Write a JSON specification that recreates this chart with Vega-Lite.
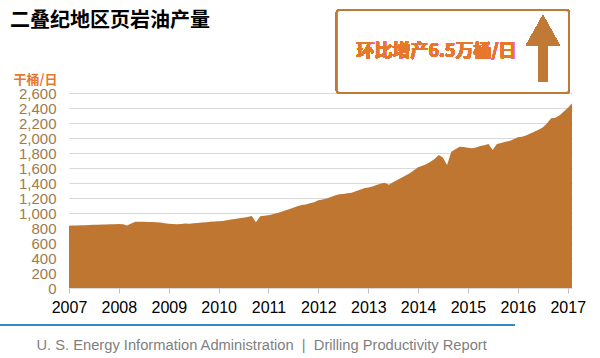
{
  "$schema": "https://vega.github.io/schema/vega-lite/v6.json",
  "width": 503,
  "height": 195,
  "autosize": {"type": "none"},
  "padding": {"left": 69, "top": 93, "right": 28, "bottom": 70},
  "background": "white",
  "config": {"view": {"stroke": null}, "font": "Liberation Sans"},
  "title": {"text": "二叠纪地区页岩油产量", "anchor": "start", "frame": "group", "dx": -59, "offset": -22, "fontSize": 20, "fontWeight": "bold", "font": "Noto Sans CJK SC", "color": "#000000"},
  "data": {"values": [
    {"date": "2007-01-01", "production": 830}, {"date": "2007-02-01", "production": 832}, {"date": "2007-03-01", "production": 835}, {"date": "2007-04-01", "production": 836},
    {"date": "2007-05-01", "production": 838}, {"date": "2007-06-01", "production": 840}, {"date": "2007-07-01", "production": 843}, {"date": "2007-08-01", "production": 845},
    {"date": "2007-09-01", "production": 846}, {"date": "2007-10-01", "production": 848}, {"date": "2007-11-01", "production": 850}, {"date": "2007-12-01", "production": 851},
    {"date": "2008-01-01", "production": 853}, {"date": "2008-02-01", "production": 850}, {"date": "2008-03-01", "production": 835}, {"date": "2008-04-01", "production": 860},
    {"date": "2008-05-01", "production": 885}, {"date": "2008-06-01", "production": 884}, {"date": "2008-07-01", "production": 882}, {"date": "2008-08-01", "production": 880},
    {"date": "2008-09-01", "production": 881}, {"date": "2008-10-01", "production": 878}, {"date": "2008-11-01", "production": 872}, {"date": "2008-12-01", "production": 865},
    {"date": "2009-01-01", "production": 858}, {"date": "2009-02-01", "production": 852}, {"date": "2009-03-01", "production": 849}, {"date": "2009-04-01", "production": 852},
    {"date": "2009-05-01", "production": 860}, {"date": "2009-06-01", "production": 858}, {"date": "2009-07-01", "production": 864}, {"date": "2009-08-01", "production": 868},
    {"date": "2009-09-01", "production": 872}, {"date": "2009-10-01", "production": 878}, {"date": "2009-11-01", "production": 882}, {"date": "2009-12-01", "production": 886},
    {"date": "2010-01-01", "production": 890}, {"date": "2010-02-01", "production": 895}, {"date": "2010-03-01", "production": 902}, {"date": "2010-04-01", "production": 912},
    {"date": "2010-05-01", "production": 920}, {"date": "2010-06-01", "production": 929}, {"date": "2010-07-01", "production": 938}, {"date": "2010-08-01", "production": 948},
    {"date": "2010-09-01", "production": 960}, {"date": "2010-10-01", "production": 876}, {"date": "2010-11-01", "production": 958}, {"date": "2010-12-01", "production": 962},
    {"date": "2011-01-01", "production": 970}, {"date": "2011-02-01", "production": 982}, {"date": "2011-03-01", "production": 996}, {"date": "2011-04-01", "production": 1015},
    {"date": "2011-05-01", "production": 1035}, {"date": "2011-06-01", "production": 1049}, {"date": "2011-07-01", "production": 1070}, {"date": "2011-08-01", "production": 1090},
    {"date": "2011-09-01", "production": 1107}, {"date": "2011-10-01", "production": 1115}, {"date": "2011-11-01", "production": 1129}, {"date": "2011-12-01", "production": 1145},
    {"date": "2012-01-01", "production": 1170}, {"date": "2012-02-01", "production": 1180}, {"date": "2012-03-01", "production": 1195}, {"date": "2012-04-01", "production": 1215},
    {"date": "2012-05-01", "production": 1232}, {"date": "2012-06-01", "production": 1249}, {"date": "2012-07-01", "production": 1255}, {"date": "2012-08-01", "production": 1262},
    {"date": "2012-09-01", "production": 1271}, {"date": "2012-10-01", "production": 1290}, {"date": "2012-11-01", "production": 1310}, {"date": "2012-12-01", "production": 1329},
    {"date": "2013-01-01", "production": 1340}, {"date": "2013-02-01", "production": 1355}, {"date": "2013-03-01", "production": 1372}, {"date": "2013-04-01", "production": 1390},
    {"date": "2013-05-01", "production": 1404}, {"date": "2013-06-01", "production": 1378}, {"date": "2013-07-01", "production": 1410}, {"date": "2013-08-01", "production": 1440},
    {"date": "2013-09-01", "production": 1470}, {"date": "2013-10-01", "production": 1500}, {"date": "2013-11-01", "production": 1529}, {"date": "2013-12-01", "production": 1570},
    {"date": "2014-01-01", "production": 1610}, {"date": "2014-02-01", "production": 1630}, {"date": "2014-03-01", "production": 1650}, {"date": "2014-04-01", "production": 1684},
    {"date": "2014-05-01", "production": 1720}, {"date": "2014-06-01", "production": 1773}, {"date": "2014-07-01", "production": 1740}, {"date": "2014-08-01", "production": 1640},
    {"date": "2014-09-01", "production": 1818}, {"date": "2014-10-01", "production": 1850}, {"date": "2014-11-01", "production": 1884}, {"date": "2014-12-01", "production": 1880},
    {"date": "2015-01-01", "production": 1870}, {"date": "2015-02-01", "production": 1862}, {"date": "2015-03-01", "production": 1875}, {"date": "2015-04-01", "production": 1893},
    {"date": "2015-05-01", "production": 1905}, {"date": "2015-06-01", "production": 1920}, {"date": "2015-07-01", "production": 1840}, {"date": "2015-08-01", "production": 1920},
    {"date": "2015-09-01", "production": 1935}, {"date": "2015-10-01", "production": 1950}, {"date": "2015-11-01", "production": 1960}, {"date": "2015-12-01", "production": 1985},
    {"date": "2016-01-01", "production": 2010}, {"date": "2016-02-01", "production": 2018}, {"date": "2016-03-01", "production": 2035}, {"date": "2016-04-01", "production": 2060},
    {"date": "2016-05-01", "production": 2084}, {"date": "2016-06-01", "production": 2110}, {"date": "2016-07-01", "production": 2140}, {"date": "2016-08-01", "production": 2195},
    {"date": "2016-09-01", "production": 2262}, {"date": "2016-10-01", "production": 2270}, {"date": "2016-11-01", "production": 2300}, {"date": "2016-12-01", "production": 2351},
    {"date": "2017-01-01", "production": 2400}, {"date": "2017-02-01", "production": 2465}
  ]},
  "layer": [
    {
      "mark": {"type": "area", "color": "#BE7630", "opacity": 1},
      "encoding": {
        "x": {"field": "date", "type": "temporal",
          "scale": {"domain": [{"year": 2007, "month": 1, "date": 1}, {"year": 2017, "month": 2, "date": 1}]},
          "axis": {"format": "%Y", "tickCount": {"interval": "year", "step": 1}, "labelFlush": false, "labelOverlap": false, "labelFontSize": 16, "labelColor": "#000000", "labelFont": "Liberation Sans", "grid": false, "tickColor": "#BFBFBF", "tickSize": 5, "labelPadding": 6, "domain": false,
            "title": "U. S. Energy Information Administration\u00a0\u00a0|\u00a0\u00a0Drilling Productivity Report", "titleX": -33, "titleY": 57, "titleAlign": "left", "titleBaseline": "middle", "titleFontSize": 14.7, "titleFontWeight": "normal", "titleColor": "#7F7F7F", "titleFont": "Liberation Sans"}},
        "y": {"field": "production", "type": "quantitative",
          "scale": {"domain": [0, 2600], "nice": false},
          "axis": {"values": [0, 200, 400, 600, 800, 1000, 1200, 1400, 1600, 1800, 2000, 2200, 2400, 2600], "tickCount": 30, "format": ",d", "labelOverlap": false,
            "title": "干桶/日", "titleAngle": 0, "titleAlign": "left", "titleBaseline": "middle", "titleX": -56, "titleY": -14, "titleFont": "Noto Sans CJK SC", "titleFontSize": 13, "titleFontWeight": "bold", "titleColor": "#E8772E",
            "labelFontSize": 15, "labelColor": "#9E7B4C", "labelFont": "Liberation Sans", "labelPadding": 13, "ticks": false, "domain": false, "grid": true, "gridColor": "#D9D9D9"}}
      }
    },
    {
      "mark": {"type": "rect", "fill": "white", "stroke": "#C07A38", "strokeWidth": 2, "cornerRadius": 3},
      "encoding": {
        "x": {"datum": {"year": 2012, "month": 5, "date": 16}, "type": "temporal"},
        "x2": {"datum": {"year": 2017, "month": 1, "date": 10}},
        "y": {"datum": 3707, "type": "quantitative"},
        "y2": {"datum": 2600}
      }
    },
    {
      "mark": {"type": "text", "text": "环比增产6.5万桶/日", "font": "Noto Sans CJK SC", "fontSize": 18, "fontWeight": "bold", "color": "#E8772E", "align": "center", "baseline": "middle"},
      "encoding": {
        "x": {"datum": {"year": 2014, "month": 5, "date": 15}, "type": "temporal"},
        "y": {"datum": 3147, "type": "quantitative"}
      }
    },
    {
      "mark": {"type": "rule", "color": "#C17A35", "strokeWidth": 9},
      "encoding": {
        "x": {"datum": {"year": 2016, "month": 7, "date": 3}, "type": "temporal"},
        "y": {"datum": 2747, "type": "quantitative"},
        "y2": {"datum": 3300}
      }
    },
    {
      "mark": {"type": "point", "shape": "M-1,0.9L0,-0.9L1,0.9Z", "filled": true, "color": "#C17A35", "opacity": 1, "size": 1156},
      "encoding": {
        "x": {"datum": {"year": 2016, "month": 7, "date": 3}, "type": "temporal"},
        "y": {"datum": 3433, "type": "quantitative"}
      }
    },
    {
      "mark": {"type": "rule", "color": "#2E8BC8", "strokeWidth": 2},
      "encoding": {
        "x": {"datum": {"year": 2005, "month": 8, "date": 13}, "type": "temporal"},
        "x2": {"datum": {"year": 2015, "month": 12, "date": 10}},
        "y": {"datum": -493, "type": "quantitative"}
      }
    }
  ]
}
